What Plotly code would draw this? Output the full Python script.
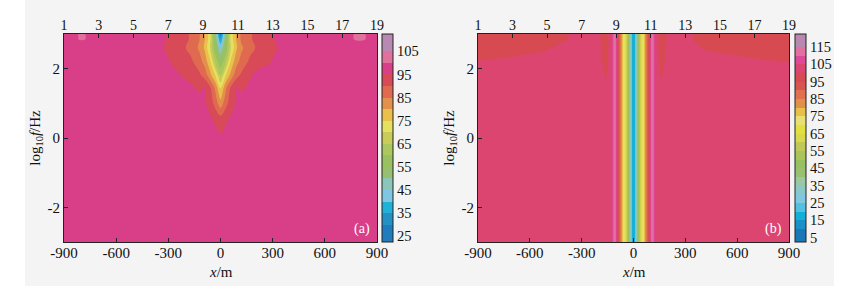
import plotly.graph_objects as go

# ---------------- data: panel (a) ----------------
x_a = [-900, -800, -700, -500, -400, -320, -280, -220, -170, -120, -90, -60, -30, 0,
       30, 60, 90, 120, 170, 220, 280, 320, 400, 500, 700, 800, 900]
y_a = [-3, 0, 0.2, 0.6, 1.0, 1.45, 1.8, 2.2, 2.6, 2.85, 3.0]
z_a = [
    [97, 97, 97, 97, 97, 97, 97, 97, 97, 97, 97, 97, 97, 97, 97, 97, 97, 97, 97, 97, 97, 97, 97, 97, 97, 97, 97],
    [97, 97, 97, 97, 97, 97, 97, 97, 97, 97, 97, 97, 97, 96.5, 97, 97, 97, 97, 97, 97, 97, 97, 97, 97, 97, 97, 97],
    [97, 97, 97, 97, 97, 97, 97, 97, 97, 97, 97, 97, 96.3, 94, 96.3, 97, 97, 97, 97, 97, 97, 97, 97, 97, 97, 97, 97],
    [97, 97, 97, 97, 97, 97, 97, 97, 97, 97, 97, 95.5, 93.5, 91, 93.5, 95.5, 97, 97, 97, 97, 97, 97, 97, 97, 97, 97, 97],
    [97, 97, 97, 97, 97, 97, 97, 97, 97, 97, 95.5, 93, 88, 82, 88, 93, 95.5, 97, 97, 97, 97, 97, 97, 97, 97, 97, 97],
    [97, 97, 97, 97, 97, 97, 97, 97, 96, 94, 95.3, 91, 84, 74, 84, 91, 95.3, 94.2, 96, 97, 97, 97, 97, 97, 97, 97, 97],
    [97, 97, 97, 97, 97, 97, 97, 94.8, 93, 91, 88, 82, 75, 65, 75, 82, 88, 91, 94.5, 97, 97, 97, 97, 97, 97, 97, 97],
    [97, 97, 97, 97, 97, 96.5, 94.5, 93, 91, 87, 83, 76, 64, 56, 64, 76, 83, 87, 91, 93, 94.5, 96.5, 97, 97, 97, 97, 97],
    [97, 97.5, 97, 97, 97, 94.6, 93, 91, 88.5, 84, 79, 70, 56, 45, 56, 70, 79, 84, 88.5, 91, 93, 94.6, 97, 97, 97, 97.5, 97],
    [98.5, 100.3, 99, 97.5, 97, 95.5, 93, 91.5, 89.5, 85, 80, 72, 54, 34, 54, 72, 80, 86, 89.5, 91.5, 93.5, 95.5, 97, 97.5, 99, 100.5, 99],
    [98.5, 100.3, 99, 97.5, 97, 95.5, 93, 91.5, 89.5, 85, 80, 72, 52, 28, 52, 72, 80, 86, 89.5, 91.5, 93.5, 95.5, 97, 97.5, 99, 100.5, 99],
]

# ---------------- data: panel (b) ----------------
x_b = [-900, -700, -500, -420, -350, -250, -190, -160, -145, -125, -115, -105, -97, -85, -72,
       -60, -48, -35, -20, -8, 0, 8, 20, 35, 48, 60, 72, 85, 97, 105, 115, 125, 145, 160,
       190, 250, 350, 420, 500, 700, 900]
y_b = [-3, 1.0, 1.6, 2.0, 2.3, 2.6, 2.8, 3.0]
z_b = [
    [102, 102, 102, 102, 102, 102, 102, 102, 102, 104, 111, 113, 105, 93, 84, 75, 68, 55, 38, 20, 15,
     20, 38, 55, 68, 75, 84, 93, 105, 113, 111, 104, 102, 102, 102, 102, 102, 102, 102, 102, 102],
    [102, 102, 102, 102, 102, 102, 102, 102, 102, 104, 111, 113, 105, 93, 84, 75, 68, 55, 38, 20, 15,
     20, 38, 55, 68, 75, 84, 93, 105, 113, 111, 104, 102, 102, 102, 102, 102, 102, 102, 102, 102],
    [102, 102, 102, 102, 102, 102, 101.5, 100.3, 101.5, 104, 111, 113, 105, 93, 84, 75, 68, 55, 38, 20, 15,
     20, 38, 55, 68, 75, 84, 93, 105, 113, 111, 104, 101.5, 100.5, 101.5, 102, 102, 102, 102, 102, 102],
    [101.5, 102, 102, 102, 102, 102, 101, 99, 101, 104, 111, 113, 105, 93, 84, 75, 68, 55, 38, 20, 15,
     20, 38, 55, 68, 75, 84, 93, 105, 113, 111, 104, 101, 99, 101, 102, 102, 102, 102, 102, 101.5],
    [99.5, 100.3, 101.5, 102, 102, 102, 100.5, 98.5, 100.5, 104, 111, 113, 105, 93, 84, 75, 68, 55, 38, 20, 15,
     20, 38, 55, 68, 75, 84, 93, 105, 113, 111, 104, 100.5, 98.5, 100.5, 102, 102, 101.8, 101, 100, 99],
    [98, 98.5, 99.5, 101, 102, 101.5, 100.5, 98, 100, 104, 111, 113, 105, 93, 84, 75, 68, 55, 38, 20, 15,
     20, 38, 55, 68, 75, 84, 93, 105, 113, 111, 104, 100, 98, 100.5, 101.5, 101, 99.5, 99, 98.5, 98.5],
    [97.5, 98, 98.5, 99.5, 100.5, 101, 100, 97.5, 100, 104, 111, 113, 105, 93, 84, 75, 68, 55, 38, 20, 15,
     20, 38, 55, 68, 75, 84, 93, 105, 113, 111, 104, 100, 97.5, 100, 101, 100, 99, 98.5, 98, 98],
    [97.5, 98, 98.5, 99, 100.5, 101, 100, 97.5, 100, 104, 111, 113, 105, 93, 84, 75, 68, 55, 38, 20, 15,
     20, 38, 55, 68, 75, 84, 93, 105, 113, 111, 104, 100, 97.5, 100, 101, 100, 99, 98.5, 98, 98],
]

# ---------------- ticks / labels ----------------
x_tickvals = [-900, -600, -300, 0, 300, 600, 900]
x_ticktext = ["-900", "-600", "-300", "0", "300", "600", "900"]
y_tickvals = [-2, 0, 2]
y_ticktext = ["-2", "0", "2"]
station_pos = [-900, -700, -500, -300, -100, 100, 300, 500, 700, 900]
station_labels = ["1", "3", "5", "7", "9", "11", "13", "15", "17", "19"]
cbar_a_ticks = [25, 35, 45, 55, 65, 75, 85, 95, 105]
cbar_b_ticks = [5, 15, 25, 35, 45, 55, 65, 75, 85, 95, 105, 115]
panel_labels = ["(a)", "(b)"]
x_title = "<i>x</i>/m"
y_title = "log<sub>10</sub><i>f</i>/Hz"

# ---------------- styles ----------------
colors_a = ["#1f7cbd", "#2491c4", "#1fb1d8", "#7fc6e2", "#8cc6b8", "#97c06e", "#99c160",
            "#abc75d", "#c9cc58", "#e5e060", "#e9c14a", "#e3904c", "#df6a50", "#d84a58",
            "#d93f88", "#e0719c", "#b889b2"]
colors_b = ["#1a78b8", "#1890c8", "#12b0d8", "#52c0e0", "#80c8e0", "#8ac8c6", "#99c8a2",
            "#98c070", "#99c060", "#a9c458", "#c0c858", "#d8d848", "#e2e040", "#e8e070",
            "#e8c048", "#e09048", "#e07050", "#d85450", "#d84a52", "#dc4570", "#e04898",
            "#e071a0", "#b888b0"]


def make_cs(colors):
    n = len(colors) + 1
    cs = [[0.0, colors[0]]]
    for k, c in enumerate(colors):
        cs.append([(k + 1) / n, c])
    cs.append([1.0, colors[-1]])
    return cs


FONT = "Liberation Serif"
W, H = 845, 286


def px_x(v):
    return v / W


def px_y(v):
    return (H - v) / H


ytop, ybot = 34, 242
dom_y = [px_y(ybot), px_y(ytop)]
dom_xa = [px_x(64), px_x(377)]
dom_xb = [px_x(478), px_x(789)]

tick_font = dict(family=FONT, size=15, color="#111")
top_font = dict(family=FONT, size=14, color="#111")
cb_font = dict(family=FONT, size=14.5, color="#111")

fig = go.Figure()

fig.add_trace(go.Contour(
    x=x_a, y=y_a, z=z_a, xaxis="x", yaxis="y",
    autocontour=False,
    contours=dict(start=25, end=110, size=5, coloring="fill", showlines=False),
    line=dict(width=0),
    colorscale=make_cs(colors_a),
    colorbar=dict(x=px_x(382), xanchor="left", y=dom_y[1], yanchor="top",
                  len=dom_y[1] - dom_y[0], lenmode="fraction", thickness=11,
                  outlinewidth=1, outlinecolor="#222", tickvals=cbar_a_ticks,
                  ticks="", tickfont=cb_font, xpad=0, ypad=0),
))
fig.add_trace(go.Contour(
    x=x_b, y=y_b, z=z_b, xaxis="x2", yaxis="y2",
    autocontour=False,
    contours=dict(start=5, end=120, size=5, coloring="fill", showlines=False),
    line=dict(width=0),
    colorscale=make_cs(colors_b),
    colorbar=dict(x=px_x(795), xanchor="left", y=dom_y[1], yanchor="top",
                  len=dom_y[1] - dom_y[0], lenmode="fraction", thickness=11,
                  outlinewidth=1, outlinecolor="#222", tickvals=cbar_b_ticks,
                  ticks="", tickfont=cb_font, xpad=0, ypad=0),
))

common_x = dict(range=[-900, 900], tickvals=x_tickvals, ticktext=x_ticktext, automargin=False,
                ticks="inside", ticklen=4, tickcolor="#222", showline=True, linecolor="#222",
                linewidth=1, mirror=True, showgrid=False, zeroline=False, tickfont=tick_font,
                ticklabelstandoff=-3)
common_y = dict(range=[-3, 3], tickvals=y_tickvals, ticktext=y_ticktext, domain=dom_y,
                automargin=False,
                ticks="inside", ticklen=4, tickcolor="#222", showline=True, linecolor="#222",
                linewidth=1, mirror=True, showgrid=False, zeroline=False, tickfont=tick_font,
                title=dict(text=y_title, font=tick_font, standoff=3))
common_top = dict(range=[-900, 900], tickvals=station_pos, ticktext=station_labels,
                  side="top", ticks="inside", ticklen=4, tickcolor="#222", showgrid=False,
                  automargin=False, zeroline=False, showline=False, tickfont=top_font)

fig.update_layout(
    width=W, height=H, margin=dict(l=0, r=0, t=0, b=0, autoexpand=False),
    paper_bgcolor="#f4f4f4", plot_bgcolor="#f4f4f4",
    showlegend=False,
    xaxis=dict(domain=dom_xa, anchor="y", **common_x),
    yaxis=dict(anchor="x", **common_y),
    xaxis2=dict(domain=dom_xb, anchor="y2", **common_x),
    yaxis2=dict(anchor="x2", **common_y),
    xaxis3=dict(overlaying="x", anchor="y", **common_top),
    xaxis4=dict(overlaying="x2", anchor="y2", **common_top),
    shapes=[
        dict(type="rect", xref="paper", yref="paper", x0=0, x1=px_x(25), y0=0, y1=1,
             fillcolor="white", line=dict(width=0), layer="below"),
        dict(type="rect", xref="paper", yref="paper", x0=px_x(834), x1=1, y0=0, y1=1,
             fillcolor="white", line=dict(width=0), layer="below"),
    ],
    annotations=[
        dict(text=panel_labels[0], xref="x domain", yref="y domain", x=0.985, y=0.015,
             xanchor="right", yanchor="bottom", showarrow=False,
             font=dict(family=FONT, size=14, color="white")),
        dict(text=panel_labels[1], xref="x2 domain", yref="y2 domain", x=0.985, y=0.015,
             xanchor="right", yanchor="bottom", showarrow=False,
             font=dict(family=FONT, size=14, color="white")),
        dict(text=x_title, xref="x domain", yref="paper", x=0.5, y=px_y(272),
             xanchor="center", yanchor="middle", showarrow=False, font=tick_font,
             borderpad=0),
        dict(text=x_title, xref="x2 domain", yref="paper", x=0.5, y=px_y(272),
             xanchor="center", yanchor="middle", showarrow=False, font=tick_font,
             borderpad=0),
    ],
)

# empty traces that activate the station (top) axes
fig.add_trace(go.Scatter(x=[None], y=[None], xaxis="x3", yaxis="y", showlegend=False, hoverinfo="skip"))
fig.add_trace(go.Scatter(x=[None], y=[None], xaxis="x4", yaxis="y2", showlegend=False, hoverinfo="skip"))

fig.write_html("out.html", config={"displayModeBar": False},
               post_script="document.body.style.margin='0px';")
